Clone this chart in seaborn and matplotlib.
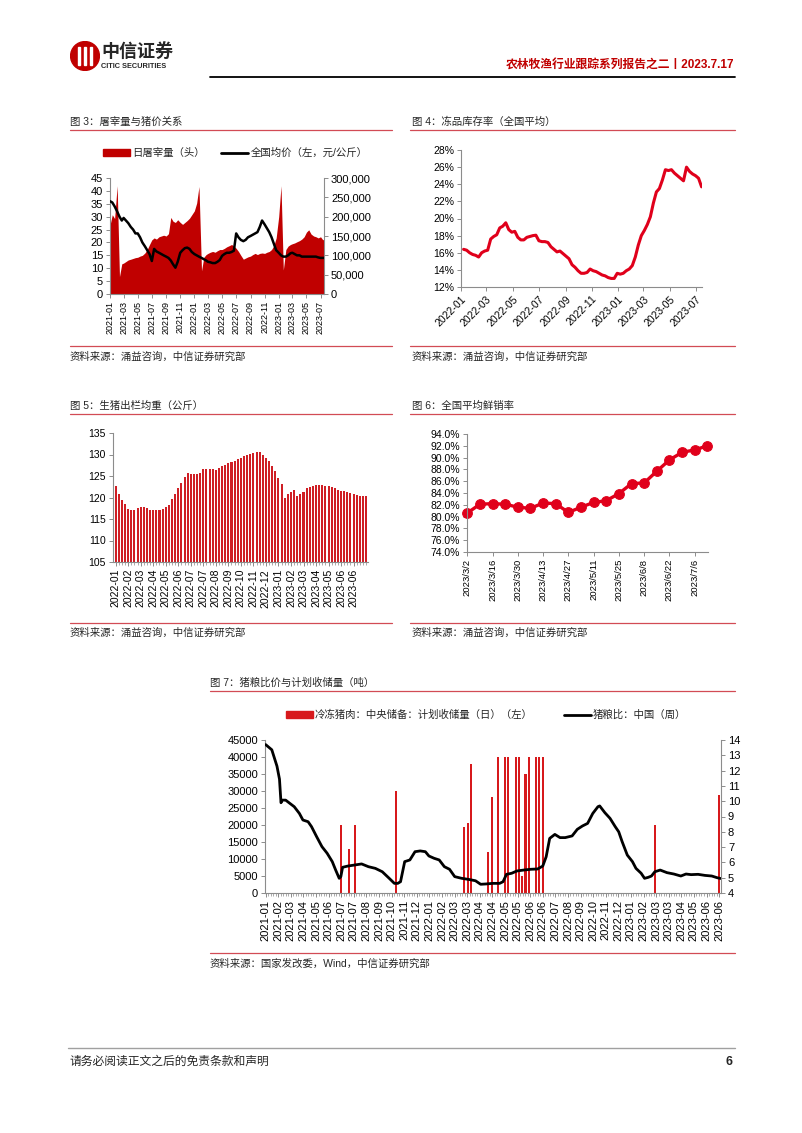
import pandas as pd
import seaborn as sns
import matplotlib.pyplot as plt
from matplotlib.lines import Line2D
from matplotlib.patches import Patch, Circle, Rectangle
from matplotlib.ticker import FuncFormatter, MultipleLocator

# ---------------- data ----------------
# fig 3: 屠宰量 (thousand heads, right axis) and 全国均价 (元/公斤, left axis), 3 readings per month
months3 = pd.period_range("2021-01", "2023-07", freq="M")
slaughter_k = [178, 205, 195, 280, 45, 78, 80, 84, 88, 90, 92, 94, 95, 98, 100,
               106, 115, 128, 140, 145, 142, 148, 150, 152, 150, 156, 198, 188, 185, 192,
               185, 180, 185, 190, 196, 205, 215, 235, 278, 60, 95, 102, 105, 108, 110,
               108, 112, 115, 115, 118, 122, 125, 128, 124, 118, 110, 100, 90, 93, 96,
               98, 102, 105, 102, 105, 106, 105, 108, 110, 115, 125, 145, 200, 280, 62,
               115, 124, 128, 130, 132, 135, 138, 142, 148, 160, 166, 155, 150, 148, 145,
               148, 140, 145]
price = [36, 35.5, 34, 32, 30, 28.5, 29.5, 28.5, 27.5, 26, 25, 23.5, 23.5, 22, 20,
         18.5, 17, 15.5, 12.8, 17.5, 16.5, 16, 15.5, 15, 14.5, 14, 13, 11.5, 10.2, 12.5,
         16, 17, 17.8, 18, 17.5, 16.3, 15.5, 15, 14.5, 14, 13.5, 13, 12.5, 12.3, 12,
         12, 12.5, 13.2, 14.8, 15.5, 16, 16, 16.3, 16.8, 23.5, 22, 21, 20.5, 21, 22,
         22.5, 23, 23.5, 24, 26, 28.5, 27, 25.5, 24, 22, 19.5, 17, 16, 15, 14.5,
         14.5, 15, 15.8, 16, 15.5, 15, 15, 14.5, 14.5, 14.5, 14.5, 14.5, 14.5, 14.5, 14.2,
         14, 14, 14]

# fig 4: 冻品库存率 weekly (%)
stock_rate = [16.4, 16.3, 16.0, 15.8, 15.7, 15.5, 16.0, 16.2, 16.3, 17.6,
              17.9, 18.1, 18.9, 19.1, 19.5, 18.7, 18.4, 18.5, 17.8, 17.5,
              17.5, 17.8, 17.9, 18.0, 18.05, 17.4, 17.3, 17.3, 17.2, 16.7,
              16.4, 16.1, 16.2, 15.9, 15.6, 15.3, 14.6, 14.3, 13.9, 13.6,
              13.6, 13.7, 14.1, 13.9, 13.8, 13.6, 13.4, 13.3, 13.1, 13.0,
              13.0, 13.6, 13.5, 13.6, 13.9, 14.1, 14.5, 15.5, 16.9, 18.0,
              18.6, 19.3, 20.2, 21.8, 23.1, 23.5, 24.5, 25.7, 25.6, 25.7,
              25.3, 25.0, 24.7, 24.4, 26.0, 25.5, 25.2, 25.0, 24.7, 23.7]

# fig 5: 生猪出栏均重 weekly (kg)
weights = [122.7, 120.7, 119.4, 118.5, 117.3, 117.1, 117.1, 117.5, 117.9, 117.7,
           117.5, 117.2, 117.2, 117.2, 117.2, 117.3, 117.7, 118.3, 119.7, 120.8,
           122.2, 123.3, 124.7, 125.7, 125.5, 125.4, 125.5, 125.8, 126.6, 126.7,
           126.7, 126.7, 126.4, 126.8, 127.4, 127.6, 128.0, 128.2, 128.4, 128.9,
           129.3, 129.6, 129.8, 130.1, 130.3, 130.6, 130.6, 129.8, 129.2, 128.4,
           127.4, 126.2, 124.5, 123.1, 120.0, 120.8, 121.2, 121.7, 120.4, 120.7,
           121.2, 122.1, 122.4, 122.7, 122.8, 122.8, 122.8, 122.7, 122.7, 122.5,
           122.1, 121.8, 121.6, 121.4, 121.2, 121.0, 120.8, 120.6, 120.4, 120.4, 120.3]
weight_labels = ["2022-01", "2022-02", "2022-03", "2022-04", "2022-05", "2022-06", "2022-07",
                 "2022-07", "2022-08", "2022-09", "2022-10", "2022-11", "2022-12", "2023-01",
                 "2023-02", "2023-03", "2023-04", "2023-05", "2023-06", "2023-06"]

# fig 6: 全国平均鲜销率 weekly (%)
fresh_rate = [80.6, 82.1, 82.2, 82.1, 81.6, 81.4, 82.3, 82.2, 80.7, 81.6,
              82.4, 82.7, 83.9, 85.6, 85.7, 87.7, 89.6, 90.9, 91.3, 92.0]
fresh_labels = ["2023/3/2", "2023/3/16", "2023/3/30", "2023/4/13", "2023/4/27",
                "2023/5/11", "2023/5/25", "2023/6/8", "2023/6/22", "2023/7/6"]

# fig 7: category axis, positions in label units
cat_labels = ["2021-01", "2021-02", "2021-03", "2021-04", "2021-05", "2021-06", "2021-07",
              "2021-07", "2021-08", "2021-09", "2021-10", "2021-11", "2021-12", "2022-01",
              "2022-02", "2022-03", "2022-03", "2022-04", "2022-04", "2022-05", "2022-05",
              "2022-06", "2022-06", "2022-07", "2022-08", "2022-09", "2022-10", "2022-11",
              "2022-12", "2023-01", "2023-02", "2023-03", "2023-03", "2023-04", "2023-05",
              "2023-06", "2023-06"]
ratio_pos = [0.0, 0.49, 0.90, 1.10, 1.22, 1.32, 1.59, 1.92, 2.27, 2.68,
             2.96, 3.37, 3.64, 4.05, 4.47, 4.88, 5.29, 5.56, 5.84, 5.97,
             6.11, 6.52, 7.07, 7.62, 8.16, 8.71, 9.26, 9.81, 10.22, 10.49,
             10.71, 11.04, 11.45, 11.86, 12.27, 12.68, 12.96, 13.37, 13.78, 14.19,
             14.6, 15.01, 15.56, 16.11, 16.66, 17.07, 17.48, 18.03, 18.58, 18.85,
             19.12, 19.53, 19.95, 20.49, 21.04, 21.59, 22.0, 22.27, 22.55, 22.96,
             23.37, 23.78, 24.33, 24.74, 25.15, 25.56, 25.97, 26.38, 26.52, 26.93,
             27.34, 27.75, 28.03, 28.3, 28.71, 29.12, 29.4, 29.81, 30.08, 30.36,
             30.63, 30.9, 31.32, 31.86, 32.41, 32.96, 33.37, 33.78, 34.33, 34.88,
             35.42, 35.84, 36.11]
ratio_val = [13.7, 13.36, 12.29, 11.44, 9.9, 10.07, 10.07, 9.86, 9.64, 9.2,
             8.77, 8.66, 8.34, 7.68, 7.03, 6.6, 6.05, 5.5, 4.96, 5.07,
             5.68, 5.76, 5.83, 5.9, 5.72, 5.61, 5.39, 4.96, 4.63, 4.63,
             4.74, 6.05, 6.16, 6.7, 6.75, 6.7, 6.42, 6.27, 6.16, 5.72,
             5.55, 5.07, 4.96, 4.89, 4.8, 4.57, 4.59, 4.63, 4.63, 4.74,
             5.22, 5.29, 5.44, 5.5, 5.55, 5.57, 5.76, 6.37, 7.57, 7.83,
             7.62, 7.62, 7.73, 8.16, 8.38, 8.55, 9.2, 9.64, 9.69, 9.25,
             8.88, 8.34, 8.0, 7.36, 6.48, 6.05, 5.61, 5.29, 4.96, 5.02,
             5.11, 5.39, 5.5, 5.33, 5.24, 5.11, 5.24, 5.2, 5.22, 5.15,
             5.11, 5.0, 4.95]
reserve_pos = [6.0, 6.58, 7.12, 10.36, 15.78, 16.05, 16.3, 17.64, 17.95, 18.47, 19.01,
               19.26, 19.84, 20.08, 20.36, 20.63, 20.9, 21.48, 21.73, 22.0, 30.9, 36.0]
reserve_val = [20000, 13000, 20000, 30000, 19300, 20700, 38000, 12000, 28200, 40000, 40000,
               40000, 40000, 40000, 5000, 35000, 40000, 40000, 40000, 40000, 20000, 28800]

# ---------------- style ----------------
sns.set_theme(style="ticks")
plt.rcParams["font.family"] = ["Liberation Sans", "Noto Sans CJK SC"]
plt.rcParams["axes.unicode_minus"] = False

W, H = 802, 1133
RED = "#C00000"
LINE_RED = "#D24B55"
GREY = "#8C8C8C"
fs = 7.5

fig = plt.figure(figsize=(W / 100, H / 100), dpi=100)


def px_axes(l, t, r, b):
    return fig.add_axes([l / W, 1 - b / H, (r - l) / W, (b - t) / H])


def ftext(x, y, s, **kw):
    kw.setdefault("fontsize", fs)
    kw.setdefault("va", "center")
    fig.text(x / W, 1 - y / H, s, **kw)


def hline(x1, x2, y, color=LINE_RED, lw=0.9):
    fig.add_artist(Line2D([x1 / W, x2 / W], [1 - y / H, 1 - y / H], color=color, lw=lw))


def style(ax, left=True, right=False, bottom=True):
    for side, on in (("left", left), ("right", right), ("bottom", bottom), ("top", False)):
        ax.spines[side].set_visible(on)
        ax.spines[side].set_color(GREY)
        ax.spines[side].set_linewidth(0.8)
    ax.tick_params(colors=GREY, labelcolor="black", length=3, width=0.7, labelsize=fs, pad=2)
    ax.tick_params(which="minor", colors=GREY, length=2, width=0.5)
    ax.set_xlabel(None)
    ax.set_ylabel(None)
    ax.set_facecolor("none")


# ---------------- header / footer ----------------
logo = fig.add_axes([70 / W, 1 - 72 / H, 30 / W, 32 / H])
logo.set_xlim(0, 1)
logo.set_ylim(0, 1)
logo.set_aspect("equal")
logo.axis("off")
logo.add_patch(Circle((0.5, 0.5), 0.48, color=RED))
for xx in (0.3, 0.5, 0.7):
    logo.add_patch(Rectangle((xx - 0.045, 0.2), 0.09, 0.6, color="white"))
ftext(101, 52, "中信证券", fontsize=13, fontweight="bold")
ftext(101, 67, "CITIC SECURITIES", fontsize=5.3, fontweight="bold")
ftext(734, 65, "农林牧渔行业跟踪系列报告之二丨2023.7.17", ha="right", color=RED,
      fontsize=8.5, fontweight="bold")
hline(210, 735, 77, color="black", lw=1.3)

hline(68, 735, 1048, color="#A0A0A0", lw=1)
ftext(70, 1062, "请务必阅读正文之后的免责条款和声明", fontsize=8.5)
ftext(733, 1062, "6", ha="right", fontsize=9, fontweight="bold")

# ---------------- titles / sources ----------------
ftext(70, 122, "图 3：屠宰量与猪价关系")
ftext(412, 122, "图 4：冻品库存率（全国平均）")
hline(70, 392, 130)
hline(410, 735, 130)
hline(70, 392, 346)
hline(410, 735, 346)
ftext(70, 357, "资料来源：涌益咨询，中信证券研究部")
ftext(412, 357, "资料来源：涌益咨询，中信证券研究部")

ftext(70, 406, "图 5：生猪出栏均重（公斤）")
ftext(412, 406, "图 6：全国平均鲜销率")
hline(70, 392, 414)
hline(410, 735, 414)
hline(70, 392, 623)
hline(410, 735, 623)
ftext(70, 633, "资料来源：涌益咨询，中信证券研究部")
ftext(412, 633, "资料来源：涌益咨询，中信证券研究部")

ftext(210, 683, "图 7：猪粮比价与计划收储量（吨）")
hline(210, 735, 691)
hline(210, 735, 953)
ftext(210, 964, "资料来源：国家发改委，Wind，中信证券研究部")

# ---------------- fig 3 ----------------
dates3 = [p.to_timestamp() + pd.Timedelta(days=d) for p in months3 for d in (0, 10, 20)]
ax3 = px_axes(110, 178, 324, 294)
ax3.fill_between(dates3, [v * 1000 for v in slaughter_k], color=RED, lw=0)
ax3b = ax3.twinx()
sns.lineplot(x=dates3, y=price, ax=ax3b, color="black", lw=1.8)
ax3.yaxis.tick_right()
ax3b.yaxis.tick_left()
ax3.set_ylim(0, 300000)
ax3b.set_ylim(0, 45)
ax3.set_xlim(pd.Timestamp("2021-01-01"), pd.Timestamp("2023-07-16"))
ax3.yaxis.set_major_locator(MultipleLocator(50000))
ax3.yaxis.set_major_formatter(FuncFormatter(lambda v, _: f"{v:,.0f}"))
ax3b.yaxis.set_major_locator(MultipleLocator(5))
ticks3 = pd.date_range("2021-01-01", "2023-07-01", freq="2MS")
ax3.set_xticks(ticks3)
ax3.set_xticklabels([t.strftime("%Y-%m") for t in ticks3], rotation=90)
style(ax3, left=True, right=True)
style(ax3b, left=False, right=False, bottom=False)
ax3.tick_params(axis="x", labelsize=6.5)
ax3.tick_params(axis="y", labelsize=8)
ax3b.tick_params(axis="y", colors=GREY, labelcolor="black", labelsize=8)
ax3b.legend(handles=[Patch(color=RED, label="日屠宰量（头）"),
                     Line2D([], [], color="black", lw=2, label="全国均价（左，元/公斤）")],
            loc="center", bbox_to_anchor=(235 / W, 1 - 153 / H), bbox_transform=fig.transFigure,
            ncol=2, frameon=False, fontsize=fs, handlelength=2.6, handleheight=0.6,
            handletextpad=0.2, columnspacing=1.6)

# ---------------- fig 4 ----------------
dates4 = pd.date_range(end="2023-07-14", periods=len(stock_rate), freq="7D")
ax4 = px_axes(461, 150, 702, 287)
sns.lineplot(x=dates4, y=stock_rate, ax=ax4, color="#E0001B", lw=2.2)
ax4.set_ylim(12, 28)
ax4.set_xlim(pd.Timestamp("2022-01-01"), pd.Timestamp("2023-07-15"))
ax4.yaxis.set_major_locator(MultipleLocator(2))
ax4.yaxis.set_major_formatter(FuncFormatter(lambda v, _: f"{v:.0f}%"))
ticks4 = pd.date_range("2022-01-01", "2023-07-01", freq="2MS")
ax4.set_xticks(ticks4)
ax4.set_xticklabels([t.strftime("%Y-%m") for t in ticks4], rotation=45, ha="right",
                    rotation_mode="anchor")
style(ax4)

# ---------------- fig 5 ----------------
ax5 = px_axes(113, 433, 368, 562)
sns.barplot(x=list(range(len(weights))), y=weights, ax=ax5, color="#CF1F25",
            saturation=1, width=0.65, linewidth=0, edgecolor="none")
ax5.set_ylim(105, 135)
ax5.set_xlim(-0.85, len(weights) - 0.4)
ax5.yaxis.set_major_locator(MultipleLocator(5))
ax5.set_xticks(range(0, len(weights) - 1, 4))
ax5.set_xticklabels(weight_labels, rotation=90)
ax5.set_xticks(range(len(weights)), minor=True)
style(ax5)

# ---------------- fig 6 ----------------
ax6 = px_axes(467, 434, 708, 552)
sns.lineplot(x=list(range(len(fresh_rate))), y=fresh_rate, ax=ax6, color="#E0001B", lw=2.4,
             marker="o", markersize=7, markeredgecolor="#E0001B", clip_on=False)
ax6.set_ylim(74, 94)
ax6.set_xlim(-0.02, len(fresh_rate) - 0.95)
ax6.yaxis.set_major_locator(MultipleLocator(2))
ax6.yaxis.set_major_formatter(FuncFormatter(lambda v, _: f"{v:.1f}%"))
ax6.set_xticks(range(0, len(fresh_rate), 2))
ax6.set_xticklabels(fresh_labels, rotation=90)
style(ax6)
ax6.tick_params(axis="x", labelsize=6.8)

# ---------------- fig 7 ----------------
ax7 = px_axes(265, 740, 721, 893)
ax7.bar(reserve_pos, reserve_val, width=0.16, color="#D7191C", lw=0, edgecolor="none")
ax7b = ax7.twinx()
sns.lineplot(x=ratio_pos, y=ratio_val, ax=ax7b, color="black", lw=2)
ax7.yaxis.tick_left()
ax7b.yaxis.tick_right()
ax7.set_ylim(0, 45000)
ax7b.set_ylim(4, 14)
ax7.set_xlim(-0.05, 36.15)
ax7.yaxis.set_major_locator(MultipleLocator(5000))
ax7b.yaxis.set_major_locator(MultipleLocator(1))
ax7.set_xticks(range(len(cat_labels)))
ax7.set_xticklabels(cat_labels, rotation=90)
ax7.xaxis.set_minor_locator(MultipleLocator(0.2))
style(ax7, left=True, right=True)
style(ax7b, left=False, right=False, bottom=False)
ax7.tick_params(labelsize=8)
ax7b.tick_params(axis="y", colors=GREY, labelcolor="black", labelsize=8)
ax7b.legend(handles=[Patch(color="#D7191C", label="冷冻猪肉：中央储备：计划收储量（日）（左）"),
                     Line2D([], [], color="black", lw=2, label="猪粮比：中国（周）")],
            loc="center", bbox_to_anchor=(486 / W, 1 - 715 / H), bbox_transform=fig.transFigure,
            ncol=2, frameon=False, fontsize=fs, handlelength=2.6, handleheight=0.6,
            handletextpad=0.2, columnspacing=3.0)

fig.savefig("out.png", dpi=100)
